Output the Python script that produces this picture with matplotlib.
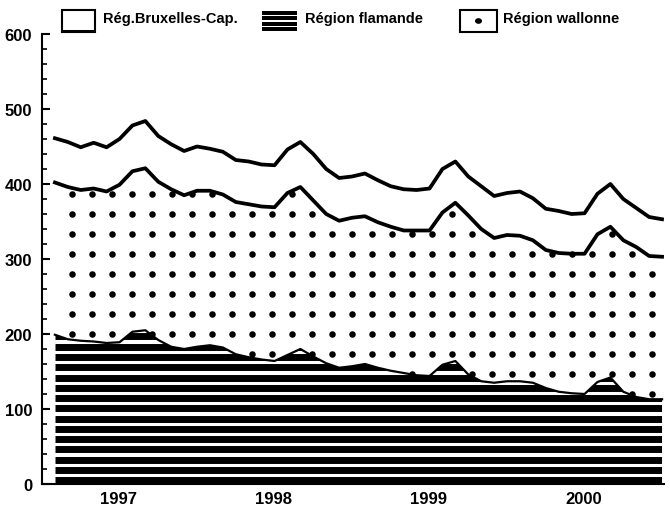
import numpy as np
import matplotlib
matplotlib.use('Agg')
import matplotlib.pyplot as plt
from matplotlib.patches import PathPatch, Rectangle
from matplotlib.ticker import MultipleLocator

# ---------------- data (monthly, Jan 1997 - Dec 2000) ----------------
months = np.arange(48)
year_labels = ['1997', '1998', '1999', '2000']
year_pos = [4.9, 16.9, 28.9, 40.9]
series_names = ['Rég.Bruxelles-Cap.', 'Région flamande', 'Région wallonne']

flamande = [199, 193, 191, 190, 188, 189, 203, 205, 192, 183, 180, 183,
            185, 182, 173, 169, 166, 164, 172, 180, 170, 161, 155, 157,
            160, 155, 151, 148, 145, 144, 159, 164, 146, 137, 135, 137,
            137, 135, 128, 123, 121, 120, 136, 142, 123, 116, 113, 113]
wallonne = [203, 203, 201, 204, 202, 210, 214, 216, 211, 210, 205, 208,
            206, 204, 203, 204, 204, 205, 216, 216, 208, 199, 196, 198,
            197, 194, 192, 190, 193, 194, 203, 211, 212, 203, 193, 195,
            194, 190, 184, 185, 186, 187, 197, 201, 202, 200, 191, 190]
bruxelles = [59, 60, 57, 61, 59, 61, 61, 63, 61, 60, 59, 59,
             56, 57, 56, 57, 56, 56, 58, 60, 62, 60, 57, 55,
             57, 56, 54, 55, 54, 56, 58, 55, 52, 57, 56, 56,
             59, 56, 55, 56, 53, 54, 54, 57, 55, 52, 52, 50]
yticks = [0, 100, 200, 300, 400, 500, 600]

plt.rcParams['font.family'] = ['Liberation Sans', 'DejaVu Sans']
plt.rcParams['font.weight'] = 'bold'

W, H = 670, 506
fig = plt.figure(figsize=(W / 100, H / 100), dpi=100)
ax = fig.add_axes([42 / W, (H - 485) / H, (664 - 42) / W, 450 / H])

F = np.array(flamande, dtype=float)
S = F + np.array(wallonne, dtype=float)
T = S + np.array(bruxelles, dtype=float)

ax.set_xlim(-1.0, 47.15)
ax.set_ylim(0, 600)

# ---- Région flamande : horizontal stripes ----
fl = ax.fill_between(months, 0, F, facecolor='white', edgecolor='none', zorder=1)
clip_fl = PathPatch(fl.get_paths()[0], transform=ax.transData,
                    facecolor='none', edgecolor='none')
ax.add_patch(clip_fl)
stripe_y = np.arange(5, 215, 13.7)
stripes = ax.hlines(stripe_y, months[0], months[-1], colors='black',
                    linewidth=5.0, zorder=2)
stripes.set_capstyle('butt')
stripes.set_clip_path(clip_fl)

# ---- Région wallonne : dot pattern ----
wa = ax.fill_between(months, F, S, facecolor='white', edgecolor='none', zorder=1)
wpath = wa.get_paths()[0]
gx, gy = np.meshgrid(1.32 + 1.548 * np.arange(31), 200 + 26.67 * np.arange(-4, 8))
pts = np.column_stack([gx.ravel(), gy.ravel()])
inside = wpath.contains_points(pts)
ax.scatter(pts[inside, 0], pts[inside, 1], s=22, color='black',
           linewidths=0, zorder=2)

# ---- boundary lines ----
ax.plot(months, T, color='black', lw=2.7, solid_joinstyle='round', zorder=4)
ax.plot(months, S, color='black', lw=2.7, solid_joinstyle='round', zorder=4)
ax.plot(months, F, color='black', lw=1.6, solid_joinstyle='round', zorder=4)

# ---- axes styling ----
for sp in ['top', 'right']:
    ax.spines[sp].set_visible(False)
for sp in ['left', 'bottom']:
    ax.spines[sp].set_linewidth(1.5)
ax.set_yticks(yticks)
ax.set_yticklabels([str(v) for v in yticks])
ax.yaxis.set_minor_locator(MultipleLocator(20))
ax.tick_params(axis='y', which='major', direction='in', length=6, width=1.5,
               pad=7, labelsize=12)
ax.tick_params(axis='y', which='minor', direction='in', length=3.5, width=1.2)
ax.set_xticks(year_pos)
ax.set_xticklabels(year_labels)
ax.tick_params(axis='x', length=0, pad=5, labelsize=12)

# ---- legend (manual, in figure pixel coordinates) ----
def fx(x):
    return x / W

def fy(y):
    return 1 - y / H

def rect(x0, y0, x1, y1, **kw):
    fig.add_artist(Rectangle((fx(x0), fy(y1)), fx(x1) - fx(x0), fy(y0) - fy(y1),
                             transform=fig.transFigure, **kw))

# Bruxelles: empty box
rect(62, 11, 95, 33, facecolor='white', edgecolor='black', linewidth=1.5)
rect(62, 31, 95, 33, facecolor='black', edgecolor='none')
# Flamande: striped box
for k in range(4):
    rect(262, 12 + k * 5.3, 297, 12 + k * 5.3 + 4.0, facecolor='black',
         edgecolor='none')
# Wallonne: dotted box
rect(460, 11, 497, 33, facecolor='white', edgecolor='black', linewidth=1.5)
fig.add_artist(plt.Circle((fx(478.5), fy(22)), 2.8 / W, transform=fig.transFigure,
                          color='black'))

fig.text(fx(103), fy(19), series_names[0], fontsize=10.5, fontweight='bold',
         va='center', ha='left')
fig.text(fx(305), fy(19), series_names[1], fontsize=10.5, fontweight='bold',
         va='center', ha='left')
fig.text(fx(503), fy(19), series_names[2], fontsize=10.5, fontweight='bold',
         va='center', ha='left')

fig.savefig('out.png', dpi=100)
